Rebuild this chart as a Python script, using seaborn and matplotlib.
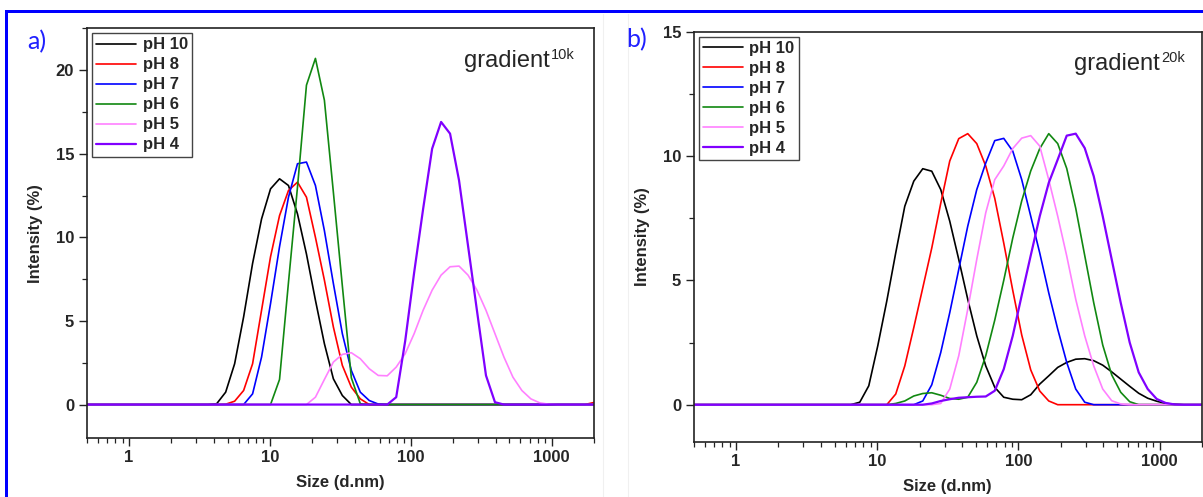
import matplotlib
matplotlib.use("Agg")
import matplotlib.pyplot as plt
import seaborn as sns
from matplotlib.ticker import FixedLocator, MultipleLocator, LogLocator, NullFormatter, FixedFormatter
from matplotlib.patches import Rectangle
from matplotlib.lines import Line2D

# ---------------- data ----------------
sizes = [0.4, 0.4632, 0.5365, 0.6213, 0.7195, 0.8332, 0.9649, 1.117, 1.294, 1.499,
         1.736, 2.01, 2.328, 2.696, 3.122, 3.615, 4.187, 4.849, 5.615, 6.503,
         7.531, 8.721, 10.1, 11.7, 13.54, 15.69, 18.17, 21.04, 24.36, 28.21,
         32.67, 37.84, 43.82, 50.75, 58.77, 68.06, 78.82, 91.28, 105.7, 122.4,
         141.8, 164.2, 190.1, 220.2, 255.0, 295.3, 342.0, 396.1, 458.7, 531.2,
         615.1, 712.4, 825.0, 955.4, 1106, 1281, 1484, 1718, 1990, 2305]

labels = ["pH 10", "pH 8", "pH 7", "pH 6", "pH 5", "pH 4"]

# panel a) gradient 10k
a_ph10 = [0, 0, 0, 0, 0, 0, 0, 0, 0, 0,
          0, 0, 0, 0, 0, 0, 0.05, 0.74, 2.44, 5.24,
          8.44, 11.1, 12.9, 13.5, 13.1, 11.4, 9.0, 6.24, 3.64, 1.54,
          0.54, 0.0, 0, 0, 0, 0, 0, 0, 0, 0,
          0, 0, 0, 0, 0, 0, 0, 0, 0, 0,
          0, 0, 0, 0, 0, 0, 0, 0, 0, 0]
a_ph8 = [0, 0, 0, 0, 0, 0, 0, 0, 0, 0,
         0, 0, 0, 0, 0, 0, 0, 0.02, 0.2, 0.84,
         2.44, 5.64, 8.84, 11.3, 12.8, 13.3, 12.4, 10.0, 7.44, 4.64,
         2.34, 1.04, 0.34, 0.0, 0, 0, 0, 0, 0, 0,
         0, 0, 0, 0, 0, 0, 0, 0, 0, 0,
         0, 0, 0, 0, 0, 0, 0, 0, 0.12, 0.3]
a_ph7 = [0, 0, 0, 0, 0, 0, 0, 0, 0, 0,
         0, 0, 0, 0, 0, 0, 0, 0, 0, 0,
         0.64, 2.84, 6.04, 9.44, 12.4, 14.4, 14.5, 13.1, 10.4, 7.24,
         4.24, 2.04, 0.74, 0.24, 0.03, 0, 0, 0, 0, 0,
         0, 0, 0, 0, 0, 0, 0, 0, 0, 0,
         0, 0, 0, 0, 0, 0, 0, 0, 0, 0]
a_ph6 = [0, 0, 0, 0, 0, 0, 0, 0, 0, 0,
         0, 0, 0, 0, 0, 0, 0, 0, 0, 0,
         0, 0, 0, 1.5, 7.3, 13.0, 19.1, 20.7, 18.2, 12.7,
         7.1, 1.6, 0.05, 0, 0, 0, 0, 0, 0, 0,
         0, 0, 0, 0, 0, 0, 0, 0, 0, 0,
         0, 0, 0, 0, 0, 0, 0, 0, 0, 0]
a_ph5 = [0, 0, 0, 0, 0, 0, 0, 0, 0, 0,
         0, 0, 0, 0, 0, 0, 0, 0, 0, 0,
         0, 0, 0, 0, 0, 0, 0.0, 0.44, 1.5, 2.54,
         3.0, 3.1, 2.74, 2.14, 1.74, 1.72, 2.24, 3.04, 4.24, 5.64,
         6.84, 7.74, 8.24, 8.28, 7.74, 6.84, 5.64, 4.24, 2.84, 1.64,
         0.84, 0.34, 0.1, 0.02, 0, 0, 0, 0, 0, 0]
a_ph4 = [0, 0, 0, 0, 0, 0, 0, 0, 0, 0,
         0, 0, 0, 0, 0, 0, 0, 0, 0, 0,
         0, 0, 0, 0, 0, 0, 0, 0, 0, 0,
         0, 0, 0, 0, 0, 0, 0.44, 3.8, 7.9, 11.7,
         15.3, 16.9, 16.2, 13.4, 9.5, 5.6, 1.74, 0.14, 0, 0,
         0, 0, 0, 0, 0, 0, 0, 0, 0, 0]

# panel b) gradient 20k
b_ph10 = [0, 0, 0, 0, 0, 0, 0, 0, 0, 0,
          0, 0, 0, 0, 0, 0, 0, 0, 0, 0,
          0.1, 0.76, 2.37, 4.17, 6.11, 7.98, 8.99, 9.49, 9.39, 8.65,
          7.38, 5.84, 4.24, 2.77, 1.56, 0.7, 0.3, 0.22, 0.2, 0.4,
          0.83, 1.16, 1.5, 1.7, 1.83, 1.85, 1.77, 1.59, 1.32, 1.03,
          0.74, 0.46, 0.26, 0.14, 0.05, 0.02, 0, 0, 0, 0]
b_ph8 = [0, 0, 0, 0, 0, 0, 0, 0, 0, 0,
         0, 0, 0, 0, 0, 0, 0, 0, 0, 0,
         0, 0, 0, 0.0, 0.43, 1.56, 3.1, 4.7, 6.3, 8.1,
         9.8, 10.7, 10.9, 10.5, 9.6, 8.3, 6.5, 4.6, 2.8, 1.4,
         0.55, 0.15, 0, 0, 0, 0, 0, 0, 0, 0,
         0, 0, 0, 0, 0, 0, 0, 0, 0, 0]
b_ph7 = [0, 0, 0, 0, 0, 0, 0, 0, 0, 0,
         0, 0, 0, 0, 0, 0, 0, 0, 0, 0,
         0, 0, 0, 0, 0, 0, 0.0, 0.15, 0.8, 2.1,
         3.7, 5.44, 7.18, 8.65, 9.72, 10.62, 10.71, 10.2, 9.05, 7.58,
         6.1, 4.5, 3.04, 1.7, 0.63, 0.1, 0, 0, 0, 0,
         0, 0, 0, 0, 0, 0, 0, 0, 0, 0]
b_ph6 = [0, 0, 0, 0, 0, 0, 0, 0, 0, 0,
         0, 0, 0, 0, 0, 0, 0, 0, 0, 0,
         0, 0, 0, 0.0, 0.05, 0.15, 0.35, 0.45, 0.48, 0.38,
         0.25, 0.22, 0.3, 0.9, 1.97, 3.4, 5.0, 6.7, 8.2, 9.4,
         10.3, 10.9, 10.5, 9.5, 7.9, 6.0, 4.1, 2.4, 1.2, 0.5,
         0.12, 0.0, 0, 0, 0, 0, 0, 0, 0, 0]
b_ph5 = [0, 0, 0, 0, 0, 0, 0, 0, 0, 0,
         0, 0, 0, 0, 0, 0, 0, 0, 0, 0,
         0, 0, 0, 0, 0, 0, 0, 0, 0, 0.05,
         0.63, 1.97, 3.84, 5.84, 7.72, 9.05, 9.6, 10.3, 10.72, 10.82,
         10.4, 9.05, 7.58, 5.98, 4.24, 2.77, 1.56, 0.63, 0.16, 0.03,
         0, 0, 0, 0, 0, 0, 0, 0, 0, 0]
b_ph4 = [0, 0, 0, 0, 0, 0, 0, 0, 0, 0,
         0, 0, 0, 0, 0, 0, 0, 0, 0, 0,
         0, 0, 0, 0, 0, 0, 0, 0.0, 0.05, 0.15,
         0.22, 0.28, 0.3, 0.32, 0.33, 0.56, 1.43, 2.77, 4.4, 6.0,
         7.58, 8.92, 9.86, 10.82, 10.9, 10.32, 9.19, 7.58, 5.84, 4.1,
         2.5, 1.3, 0.63, 0.23, 0.07, 0.01, 0, 0, 0, 0]

x_major = [1, 10, 100, 1000]
x_major_labels = ["1", "10", "100", "1000"]

# ---------------- style ----------------
sns.set_style("ticks")
plt.rcParams["font.family"] = ["Liberation Sans", "DejaVu Sans"]
plt.rcParams["font.weight"] = "bold"
plt.rcParams["axes.labelweight"] = "bold"

colors = ["#000000", "#ff0000", "#0000ff", "#118811", "#ff80ff", "#8000ff"]
widths = [1.2, 1.2, 1.2, 1.2, 1.2, 1.6]

W, H = 1203, 497
fig = plt.figure(figsize=(W / 100, H / 100), dpi=100)
fig.patch.set_facecolor("white")


def fx(px):
    return px / W


def fy(py):
    return 1 - py / H


axA = fig.add_axes([fx(86.7), fy(438), fx(594) - fx(86.7), fy(28.3) - fy(438)])
axB = fig.add_axes([fx(693.5), fy(442), fx(1202) - fx(693.5), fy(31.7) - fy(442)])

panels = [
    (axA, [a_ph10, a_ph8, a_ph7, a_ph6, a_ph5, a_ph4], (-2, 22.5), [0, 5, 10, 15, 20]),
    (axB, [b_ph10, b_ph8, b_ph7, b_ph6, b_ph5, b_ph4], (-1.5, 15), [0, 5, 10, 15]),
]

for ax, series, ylim, yt in panels:
    for lab, vals, col, lw in zip(labels, series, colors, widths):
        sns.lineplot(x=sizes, y=vals, color=col, linewidth=lw, label=lab, ax=ax,
                     estimator=None, sort=False)
    ax.set_xscale("log")
    ax.set_xlim(0.5, 2000)
    ax.set_ylim(*ylim)
    ax.xaxis.set_major_locator(FixedLocator(x_major))
    ax.xaxis.set_major_formatter(FixedFormatter(x_major_labels))
    ax.xaxis.set_minor_locator(LogLocator(base=10, subs=[2, 3, 4, 5, 6, 7, 8, 9], numticks=20))
    ax.xaxis.set_minor_formatter(NullFormatter())
    ax.yaxis.set_major_locator(FixedLocator(yt))
    ax.yaxis.set_minor_locator(MultipleLocator(2.5))
    ax.tick_params(which="major", direction="out", length=6, width=1.0, pad=3,
                   labelsize=12, top=False, right=False, color="#222222")
    ax.tick_params(which="minor", direction="out", length=3.5, width=0.9,
                   top=False, right=False, color="#222222")
    for sp in ax.spines.values():
        sp.set_linewidth(1.2)
        sp.set_color("#222222")
    ax.set_xlabel("Size (d.nm)", fontsize=12, labelpad=7)
    ax.set_ylabel("Intensity (%)", fontsize=12, labelpad=9)
    leg = ax.legend(loc="upper left", bbox_to_anchor=(0, 1), borderaxespad=0.3,
                    handlelength=2.4, handletextpad=0.4, labelspacing=0.3,
                    borderpad=0.25, frameon=True, fancybox=False,
                    prop={"weight": "bold", "size": 12})
    leg.get_frame().set_edgecolor("#444444")
    leg.get_frame().set_linewidth(1.0)
    leg.get_frame().set_alpha(1)

# panel annotations
fig.text(fx(37), fy(42), "a)", color="#2020ff", fontsize=18, fontweight="normal",
         ha="center", va="center", family=["Lato", "DejaVu Sans"])
fig.text(fx(637), fy(40), "b)", color="#2020ff", fontsize=18, fontweight="normal",
         ha="center", va="center", family=["Lato", "DejaVu Sans"])

fig.text(fx(550), fy(66.7), "gradient", fontsize=17, fontweight="normal",
         ha="right", va="baseline")
fig.text(fx(551), fy(59), "10k", fontsize=10.5, fontweight="normal",
         ha="left", va="baseline")
fig.text(fx(1160), fy(70), "gradient", fontsize=17, fontweight="normal",
         ha="right", va="baseline")
fig.text(fx(1161), fy(62.4), "20k", fontsize=10.5, fontweight="normal",
         ha="left", va="baseline")

# faint separators between the two panel images
for xp in (603, 628):
    fig.add_artist(Line2D([fx(xp), fx(xp)], [0, fy(14)], transform=fig.transFigure,
                          color="#f0f0f0", linewidth=0.8))

# blue frame (top and left)
fig.add_artist(Rectangle((fx(5), fy(13)), 1 - fx(5), 3 / H, transform=fig.transFigure,
                         facecolor="#0000ff", edgecolor="none"))
fig.add_artist(Rectangle((fx(5), 0), 3 / W, fy(10), transform=fig.transFigure,
                         facecolor="#0000ff", edgecolor="none"))

fig.savefig("out.png", dpi=100)
